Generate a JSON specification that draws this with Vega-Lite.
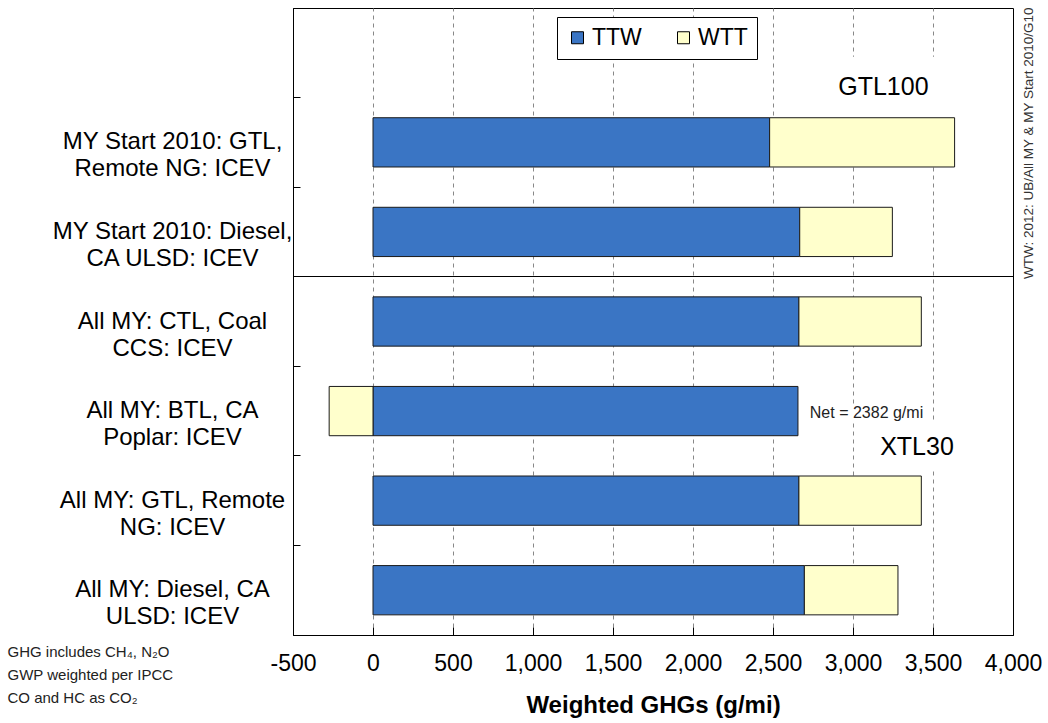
{
  "$schema": "https://vega.github.io/schema/vega-lite/v6.json",
  "autosize": {"type": "none"},
  "width": 720,
  "height": 627,
  "padding": {"left": 293, "top": 8, "right": 35, "bottom": 88},
  "background": "white",
  "config": {
    "font": "Liberation Sans",
    "view": {"stroke": "black", "strokeWidth": 1}
  },
  "title": {
    "text": "WTW: 2012: UB/All MY & MY Start 2010/G10",
    "orient": "right",
    "anchor": "start",
    "angle": -90,
    "align": "right",
    "baseline": "middle",
    "offset": -29,
    "dy": 3,
    "fontSize": 13.5,
    "fontWeight": "normal",
    "color": "#333333"
  },
  "data": {
    "values": [
      {"cat": "MY Start 2010: GTL,|Remote NG: ICEV", "series": "TTW", "value": 2479},
      {"cat": "MY Start 2010: GTL,|Remote NG: ICEV", "series": "WTT", "value": 1156},
      {"cat": "MY Start 2010: Diesel,|CA ULSD: ICEV", "series": "TTW", "value": 2667},
      {"cat": "MY Start 2010: Diesel,|CA ULSD: ICEV", "series": "WTT", "value": 579},
      {"cat": "All MY: CTL, Coal|CCS: ICEV", "series": "TTW", "value": 2662},
      {"cat": "All MY: CTL, Coal|CCS: ICEV", "series": "WTT", "value": 765},
      {"cat": "All MY: BTL, CA|Poplar: ICEV", "series": "TTW", "value": 2656},
      {"cat": "All MY: BTL, CA|Poplar: ICEV", "series": "WTT", "value": -274},
      {"cat": "All MY: GTL, Remote|NG: ICEV", "series": "TTW", "value": 2662},
      {"cat": "All MY: GTL, Remote|NG: ICEV", "series": "WTT", "value": 765},
      {"cat": "All MY: Diesel, CA|ULSD: ICEV", "series": "TTW", "value": 2696},
      {"cat": "All MY: Diesel, CA|ULSD: ICEV", "series": "WTT", "value": 585}
    ]
  },
  "layer": [
    {
      "mark": {"type": "bar", "height": {"band": 0.55}, "stroke": "#1a1a1a", "strokeWidth": 1},
      "encoding": {
        "y": {
          "field": "cat",
          "type": "nominal",
          "sort": null,
          "scale": {
            "domain": [" ", "MY Start 2010: GTL,|Remote NG: ICEV", "MY Start 2010: Diesel,|CA ULSD: ICEV", "All MY: CTL, Coal|CCS: ICEV", "All MY: BTL, CA|Poplar: ICEV", "All MY: GTL, Remote|NG: ICEV", "All MY: Diesel, CA|ULSD: ICEV"],
            "paddingInner": 0,
            "paddingOuter": 0
          },
          "axis": {
            "title": ["GHG includes CH₄, N₂O", "GWP weighted per IPCC", "CO and HC as CO₂"],
            "titleX": -286,
            "titleY": 636,
            "titleAngle": 0,
            "titleAlign": "left",
            "titleBaseline": "top",
            "titleFontSize": 15,
            "titleFontWeight": "normal",
            "titleLineHeight": 23,
            "titleColor": "#222222",
            "labelExpr": "split(datum.label, '|')",
            "labelAlign": "center",
            "labelBaseline": "middle",
            "labelFontSize": 24,
            "labelLineHeight": 27,
            "labelColor": "black",
            "labelPadding": 128,
            "labelLimit": 400,
            "bandPosition": 0,
            "tickSize": -7,
            "tickColor": "black",
            "domainColor": "black",
            "grid": true,
            "gridColor": "black",
            "gridOpacity": {"condition": {"test": "datum.value === 'All MY: CTL, Coal|CCS: ICEV'", "value": 1}, "value": 0}
          }
        },
        "x": {
          "field": "value",
          "type": "quantitative",
          "stack": "zero",
          "scale": {"domain": [-500, 4000], "nice": false, "zero": false},
          "axis": {
            "values": [-500, 0, 500, 1000, 1500, 2000, 2500, 3000, 3500, 4000],
            "labelExpr": "replace(format(datum.value, ','), '−', '-')",
            "labelOverlap": false,
            "labelFlush": false,
            "title": "Weighted GHGs (g/mi)",
            "titleFontSize": 24,
            "titleFontWeight": "bold",
            "titleColor": "black",
            "titlePadding": 18,
            "labelFontSize": 23,
            "labelColor": "black",
            "labelPadding": 25,
            "tickSize": -8,
            "tickColor": "black",
            "domainColor": "black",
            "grid": true,
            "gridDash": [4, 4],
            "gridColor": "#888888",
            "gridOpacity": {"condition": {"test": "datum.value > -500 && datum.value < 4000", "value": 1}, "value": 0}
          }
        },
        "color": {
          "field": "series",
          "type": "nominal",
          "scale": {"domain": ["TTW", "WTT"], "range": ["#3A75C4", "#FFFFCC"]},
          "legend": {
            "orient": "none",
            "legendX": 264,
            "legendY": 9,
            "direction": "horizontal",
            "title": null,
            "symbolType": "square",
            "symbolSize": 144,
            "symbolStrokeColor": "black",
            "symbolStrokeWidth": 1,
            "symbolOpacity": 1,
            "labelFontSize": 23,
            "labelColor": "black",
            "labelOffset": 3,
            "columnPadding": 30,
            "padding": 9,
            "strokeColor": "black",
            "fillColor": "white"
          }
        }
      }
    },
    {
      "data": {"values": [{"note": "box"}]},
      "mark": {"type": "bar", "fill": "white", "height": 60, "yOffset": 34},
      "encoding": {
        "x": {"datum": 2700},
        "x2": {"datum": 3995},
        "y": {"datum": " ", "type": "nominal"}
      }
    },
    {
      "data": {"values": [{"note": "box"}]},
      "mark": {"type": "bar", "fill": "white", "height": 48, "yOffset": 36},
      "encoding": {
        "x": {"datum": 3050},
        "x2": {"datum": 3995},
        "y": {"datum": "All MY: BTL, CA|Poplar: ICEV", "type": "nominal"}
      }
    },
    {
      "data": {"values": [{"note": "box"}]},
      "mark": {"type": "bar", "fill": "white", "height": 18, "yOffset": 2},
      "encoding": {
        "x": {"datum": 2720},
        "x2": {"datum": 3480},
        "y": {"datum": "All MY: BTL, CA|Poplar: ICEV", "type": "nominal"}
      }
    },
    {
      "data": {"values": [{"note": "GTL100"}]},
      "mark": {"type": "text", "fontSize": 25, "fontWeight": "normal", "align": "center", "baseline": "middle", "dy": 34, "fill": "black"},
      "encoding": {
        "text": {"field": "note"},
        "x": {"datum": 3190},
        "y": {"datum": " ", "type": "nominal"}
      }
    },
    {
      "data": {"values": [{"note": "XTL30"}]},
      "mark": {"type": "text", "fontSize": 25, "fontWeight": "normal", "align": "center", "baseline": "middle", "dy": 36, "fill": "black"},
      "encoding": {
        "text": {"field": "note"},
        "x": {"datum": 3400},
        "y": {"datum": "All MY: BTL, CA|Poplar: ICEV", "type": "nominal"}
      }
    },
    {
      "data": {"values": [{"note": "Net = 2382 g/mi"}]},
      "mark": {"type": "text", "fontSize": 16, "fontWeight": "normal", "align": "left", "baseline": "middle", "dy": 2, "fill": "#222222"},
      "encoding": {
        "text": {"field": "note"},
        "x": {"datum": 2730},
        "y": {"datum": "All MY: BTL, CA|Poplar: ICEV", "type": "nominal"}
      }
    }
  ]
}
